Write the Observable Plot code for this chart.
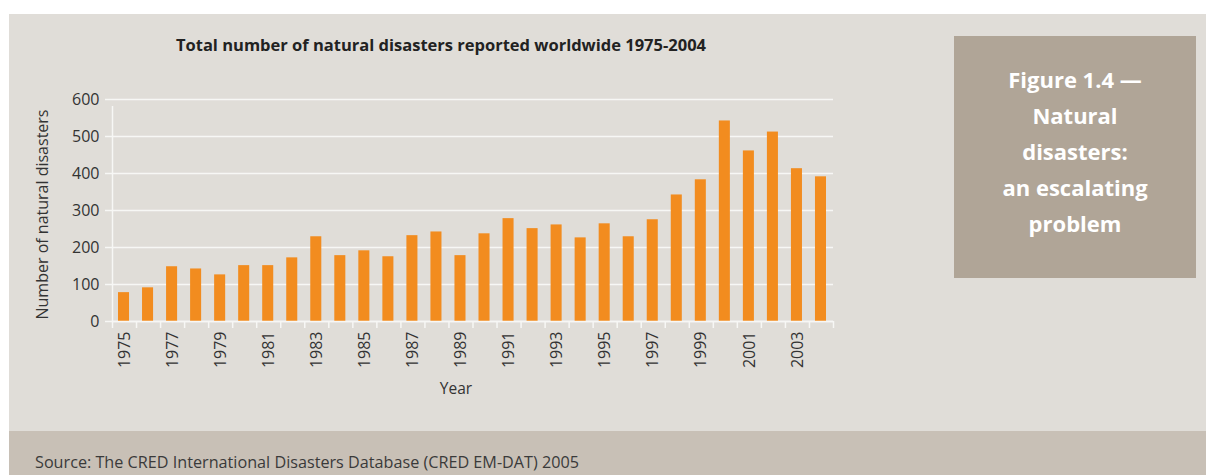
<!DOCTYPE html>
<html>
<head>
<meta charset="utf-8">
<script src="https://cdn.jsdelivr.net/npm/d3@7"></script>
<script src="https://cdn.jsdelivr.net/npm/@observablehq/plot@0.6"></script>
<style>
  html, body { margin: 0; padding: 0; background: #ffffff; }
  body { width: 1206px; height: 475px; position: relative; overflow: hidden; font-family: "Open Sans", "Noto Sans", sans-serif; }
  #panel { position: absolute; left: 9px; top: 14px; right: 0; height: 417px; background: #e0ddd8; }
  #source { position: absolute; left: 9px; top: 431px; right: 0; bottom: 0; background: #c8c0b6; }
  #source span { position: absolute; left: 26px; top: 20px; font-size: 16.2px; color: #3a3a3a; white-space: nowrap; }
  #title { position: absolute; left: 141px; width: 600px; top: 33px; text-align: center; font-size: 16.5px; font-weight: 700; color: #222; white-space: nowrap; }
  #chart { position: absolute; left: 0; top: 0; }
  #figbox { position: absolute; left: 954px; top: 36px; width: 242px; height: 242px; background: #b0a597; color: #ffffff; box-sizing: border-box; padding-top: 25px; text-align: center; font-size: 22px; font-weight: 700; line-height: 36px; }
</style>
</head>
<body>
<div id="panel"></div>
<div id="source"><span id="source-text"></span></div>
<div id="title"></div>
<div id="chart"></div>
<div id="figbox"></div>
<script>
// Natural disasters reported per year (CRED EM-DAT)
const years = [1975, 1976, 1977, 1978, 1979, 1980, 1981, 1982, 1983, 1984,
               1985, 1986, 1987, 1988, 1989, 1990, 1991, 1992, 1993, 1994,
               1995, 1996, 1997, 1998, 1999, 2000, 2001, 2002, 2003, 2004];
const disasters = [78, 91, 148, 142, 126, 151, 151, 172, 229, 178,
                   191, 175, 232, 242, 178, 237, 278, 251, 261, 226,
                   264, 229, 275, 342, 383, 542, 461, 512, 413, 391];
const yTicks = [0, 100, 200, 300, 400, 500, 600];
const yearLabels = [1975, 1977, 1979, 1981, 1983, 1985, 1987, 1989, 1991,
                    1993, 1995, 1997, 1999, 2001, 2003];

const titleText = "Total number of natural disasters reported worldwide 1975-2004";
const yLabel = "Number of natural disasters";
const xLabel = "Year";
const boxLines = ["Figure 1.4 \u2014", "Natural", "disasters:", "an escalating", "problem"];
const sourceText = "Source: The CRED International Disasters Database (CRED EM-DAT) 2005";

document.getElementById("title").textContent = titleText;
document.getElementById("source-text").textContent = sourceText;
document.getElementById("figbox").innerHTML = boxLines.map(l => `<div>${l}</div>`).join("");

const data = years.map((year, i) => ({year, value: disasters[i]}));
// tick marks sit on the boundaries between yearly bands
const boundaries = years.map(y => y - 0.5).concat([years[years.length - 1] + 0.5]);

const ink = "#333333";
const grid = "#f7f7f5";

const chart = Plot.plot({
  width: 900,
  height: 420,
  marginLeft: 112,
  marginRight: 67,
  marginTop: 99,
  marginBottom: 99,
  style: {background: "transparent", fontFamily: "'Open Sans', 'Noto Sans', sans-serif", color: ink},
  x: {domain: [boundaries[0], boundaries[boundaries.length - 1]]},
  y: {domain: [0, 600]},
  marks: [
    Plot.gridY(yTicks, {stroke: grid, strokeOpacity: 1, strokeWidth: 1.5}),
    Plot.rectY(data, {
      x1: d => d.year - 0.5,
      x2: d => d.year + 0.5,
      y: "value",
      fill: "#f28c1f",
      insetLeft: 6,
      insetRight: 7
    }),
    Plot.ruleY([0], {stroke: grid, strokeWidth: 1.5}),
    Plot.ruleX([boundaries[0]], {y1: 0, y2: 600, stroke: grid, strokeWidth: 1.5, insetBottom: -7}),
    Plot.axisY({
      ticks: yTicks,
      tickSize: 7,
      tickPadding: 6,
      stroke: grid,
      strokeWidth: 1.5,
      fontSize: 16,
      fill: ink,
      label: null
    }),
    Plot.axisX({
      ticks: boundaries,
      tickFormat: () => "",
      tickSize: 7,
      stroke: grid,
      strokeWidth: 1.5,
      label: null
    }),
    Plot.axisX({
      ticks: yearLabels,
      tickFormat: d => String(d),
      tickSize: 0,
      tickPadding: 10,
      tickRotate: -90,
      fontSize: 16,
      fill: ink,
      label: null
    }),
    Plot.text([yLabel], {
      frameAnchor: "left",
      textAnchor: "middle",
      rotate: -90,
      dx: -70,
      dy: 4,
      fontSize: 16,
      fill: ink
    }),
    Plot.text([xLabel], {
      frameAnchor: "bottom",
      dx: -17,
      dy: 72,
      fontSize: 15.5,
      fill: ink
    })
  ]
});
document.getElementById("chart").appendChild(chart);
</script>
</body>
</html>
